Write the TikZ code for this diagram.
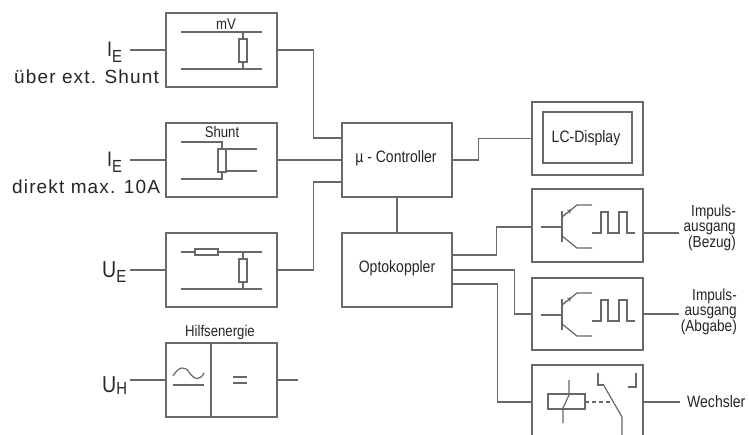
\documentclass[tikz,border=0pt]{standalone}
\usepackage{fontspec}
\setmainfont{Liberation Sans}[FakeStretch=0.85]
\newfontfamily\widefont{Liberation Sans}[LetterSpace=6]
\usetikzlibrary{arrows.meta,calc}
\definecolor{ln}{HTML}{686868}
\definecolor{tx}{HTML}{262626}
\tikzset{
  blk/.style={draw=ln, line width=1.3pt, minimum width=111pt, minimum height=74pt, inner sep=0pt},
  wire/.style={draw=ln, line width=1.3pt},
  sym/.style={draw=ln, line width=1.2pt},
  lbl/.style={text=tx, font=\fontsize{16.5}{16.5}\selectfont, inner sep=0pt},
  smalllbl/.style={text=tx, font=\fontsize{15.5}{15.5}\selectfont, inner sep=0pt},
  biglbl/.style={text=tx, font=\widefont\fontsize{19}{19}\selectfont, inner sep=0pt},
  outlbl/.style={text=tx, font=\fontsize{16}{14.5}\selectfont, inner sep=0pt, align=right},
}
\newcommand\trpulse[1]{%
  \begin{scope}[shift={#1}]
    \draw[sym] (-21,0) -- (0,0);
    \draw[draw=ln, line width=1.8pt] (0,-16) -- (0,15);
    \draw[sym] (0,-10) -- (15,-22) -- (30,-22);
    \draw[draw=ln, line width=1pt, -{Stealth[length=5pt,width=4.5pt]}] (0,-10) -- (10,-18);
    \draw[sym] (0,9) -- (15,21) -- (30,21);
    \draw[sym] (30,6) -- (39,6) -- (39,-15) -- (46,-15) -- (46,6) -- (57,6) -- (57,-15) -- (65,-15) -- (65,6) -- (73,6);
  \end{scope}}
\begin{document}
\begin{tikzpicture}[x=1pt,y=-1pt]
\useasboundingbox (0,0) rectangle (749,435);
\clip (0,0) rectangle (749,435);
\fill[white] (0,0) rectangle (749,435);

% ---- blocks
\node[blk] (box1) at (221.5,50) {};
\node[blk] (box2) at (221.5,160) {};
\node[blk] (box3) at (221.5,270) {};
\node[blk] (hbox) at (221.5,380) {};
\node[blk, minimum width=110pt] (ctrl) at (397,160) {};
\node[lbl] (ctrltxt) at (396,158) {µ - Controller};
\node[blk, minimum width=110pt] (opto) at (397,270) {};
\node[lbl] (optotxt) at (397,268) {Optokoppler};
\node[blk, minimum height=73pt, line width=1.7pt] (lcd) at (587.5,138.5) {};
\node[draw=ln, line width=1.2pt, minimum width=89pt, minimum height=51pt, inner sep=0pt] (lcdin) at (587.5,137.5) {};
\node[lbl] (lcdtxt) at (586,138) {LC-Display};
\node[blk, minimum height=73pt] (imp1) at (587.5,225.5) {};
\node[blk, minimum height=72pt] (imp2) at (587.5,314) {};
\node[blk] (wech) at (587.5,402) {};

% ---- box 1: mV
\draw[sym] (181,32) -- (262,32);
\draw[sym] (181,69) -- (262,69);
\draw[sym] (243,32) -- (243,69);
\draw[sym, fill=white] (239,39) rectangle (247,62);
\node[smalllbl] (mv) at (226,24) {mV};

% ---- box 2: Shunt
\draw[sym] (181,142) -- (222,142) -- (222,179) -- (181,179);
\draw[sym, fill=white] (218,149) rectangle (226,172);
\draw[sym] (226,149) -- (257,149);
\draw[sym] (226,171) -- (257,171);
\node[smalllbl] (shunt) at (222,132) {Shunt};

% ---- box 3: divider
\draw[sym] (181,252) -- (262,252);
\draw[sym, fill=white] (195,249) rectangle (218,255);
\draw[sym] (243,252) -- (243,289);
\draw[sym, fill=white] (239,259) rectangle (247,282);
\draw[sym] (181,289) -- (262,289);

% ---- Hilfsenergie
\draw[wire] (211,343) -- (211,417);
\draw[sym] (173,376) .. controls (179,366) and (185,366) .. (189,372) .. controls (194,380) and (200,381) .. (204,373);
\draw[sym] (173,385) -- (204,385);
\draw[sym] (233,377) -- (247,377);
\draw[sym] (233,383) -- (247,383);
\node[smalllbl] (hilf) at (220,332) {Hilfsenergie};

% ---- transistors and pulses
\trpulse{(562,227)}
\trpulse{(562,315)}

% ---- relay (Wechsler)
\draw[sym, fill=white] (548,394) rectangle (585,409);
\draw[sym] (569,380) -- (569,395) -- (563,408) -- (563,423);
\draw[sym, dash pattern=on 4pt off 3pt] (585,402) -- (612,402);
\draw[sym] (598,373) -- (598,385) -- (603,385);
\draw[sym] (603,384) -- (622,417) -- (622,440);
\draw[sym] (636,373) -- (636,387) -- (628,387);

% ---- left labels and inputs
\coordinate (in1) at (130,50);
\coordinate (in2) at (130,160);
\coordinate (in3) at (130,270);
\coordinate (in4) at (130,380);
\draw[wire] (in1) -- (box1.west);
\draw[wire] (in2) -- (box2.west);
\draw[wire] (in3) -- (box3.west);
\draw[wire] (in4) -- (hbox.west);
\node[text=tx, inner sep=0pt, anchor=base west] (ie1) at (107,57) {\fontsize{21}{21}\selectfont I\raisebox{-6pt}{\fontsize{17.5}{17.5}\selectfont E}};
\node[biglbl, anchor=base west] (ie1b) at (14,84) {über ext. Shunt};
\node[text=tx, inner sep=0pt, anchor=base west] (ie2) at (107,167) {\fontsize{21}{21}\selectfont I\raisebox{-6pt}{\fontsize{17.5}{17.5}\selectfont E}};
\node[biglbl, anchor=base west] (ie2b) at (12,194) {direkt max. 10A};
\node[text=tx, inner sep=0pt, anchor=base west] (ue) at (102,278) {\fontsize{23}{23}\selectfont U\raisebox{-5pt}{\fontsize{17.5}{17.5}\selectfont E}};
\node[text=tx, inner sep=0pt, anchor=base west] (uh) at (102,392) {\fontsize{23}{23}\selectfont U\raisebox{-2pt}{\fontsize{17.5}{17.5}\selectfont H}};

% ---- connectors
\draw[wire] (box1.east) -- ++(36,0) |- ($(ctrl.west)+(0,-22)$);
\draw[wire] (box2.east) -- (ctrl.west);
\draw[wire] (box3.east) -- ++(36,0) |- ($(ctrl.west)+(0,22)$);
\draw[wire] (ctrl.south) -- (opto.north);
\draw[wire] (ctrl.east) -- ++(26,0) |- (lcd.west);
\draw[wire] ($(opto.east)+(0,-15)$) -- ++(44,0) |- ($(imp1.west)+(0,1.5)$);
\draw[wire] (opto.east) -- ++(62,0) |- (imp2.west);
\draw[wire] ($(opto.east)+(0,14)$) -- ++(45,0) |- (wech.west);
\coordinate (hout) at (298,380);
\draw[wire] (hbox.east) -- (hout);

% ---- outputs
\coordinate (o1) at (679,233);
\coordinate (o2) at (679,314);
\coordinate (o3) at (680,402);
\draw[wire] (imp1.east |- o1) -- (o1);
\draw[wire] (imp2.east) -- (o2);
\draw[wire] (wech.east) -- (o3);
\node[outlbl, anchor=east] (l1) at (736,228) {Impuls-\\ausgang\\(Bezug)};
\node[outlbl, anchor=east] (l2) at (737,312) {Impuls-\\ausgang\\(Abgabe)};
\node[lbl, anchor=west] (l3) at (687,402) {Wechsler};
\end{tikzpicture}
\end{document}
